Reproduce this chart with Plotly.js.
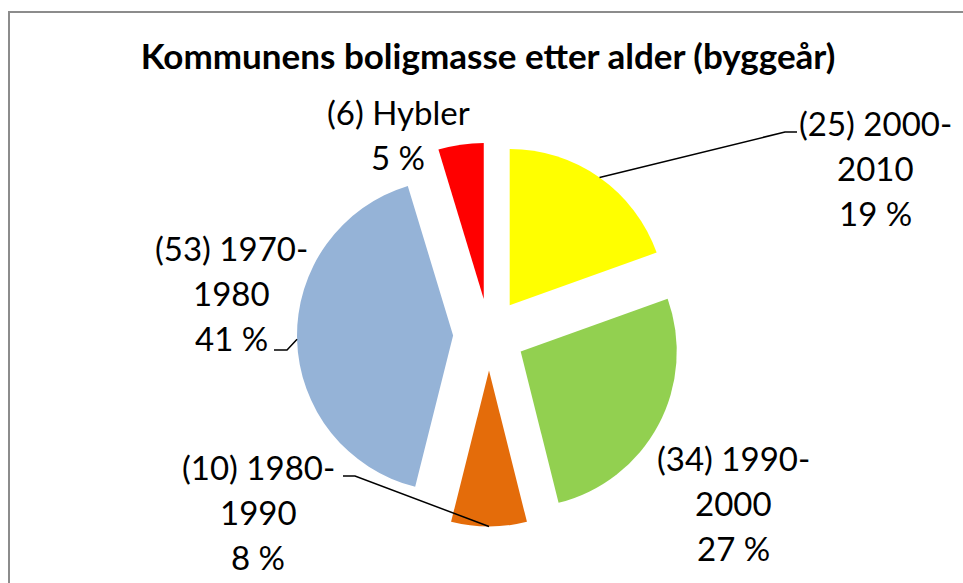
<!DOCTYPE html>
<html>
<head>
<meta charset="utf-8">
<script src="https://cdn.plot.ly/plotly-3.0.1.min.js"></script>
<style>html,body{margin:0;padding:0;background:#fff;}#chart{width:963px;height:583px;}</style>
</head>
<body>
<div id="chart"></div>
<script>
// ---- data ----
var categories = ['2000-2010', '1990-2000', '1980-1990', '1970-1980', 'Hybler'];
var counts = [25, 34, 10, 53, 6];
var percentLabels = ['19 %', '27 %', '8 %', '41 %', '5 %'];
var colors = ['#FFFF00', '#92D050', '#E46C0A', '#95B3D7', '#FF0000'];

// ---- layout constants (pixels) ----
var W = 963, H = 583;
var cx = 489, cy = 334.5, R = 192;      // pie centre and outer extent incl. pull
var pullFrac = 0.23;
var fontFam = 'Lato, "Open Sans", sans-serif';
var labelSize = 33;
var lineGap = 45;
// label block: x centre, y of first line, leader end (elbow) points
var labelPos = [
  {x: 875, y: 123, leader: [[785, 132], [797, 132]]},
  {x: 733, y: 458, leader: null},
  {x: 258, y: 467, leader: [[355, 476], [343, 476]]},
  {x: 231, y: 248, leader: [[287, 350], [274, 350]]},
  {x: 398, y: 112, leader: null}
];

function px(x) { return x / W; }
function py(y) { return 1 - y / H; }

var total = counts.reduce(function (a, b) { return a + b; }, 0);

var annotations = [];
var shapes = [];
var cum = 0;
categories.forEach(function (cat, i) {
  var lines = [];
  var name = '(' + counts[i] + ') ' + cat;
  var hy = name.indexOf('-');
  if (hy >= 0) { lines.push(name.slice(0, hy + 1)); lines.push(name.slice(hy + 1)); }
  else lines.push(name);
  lines.push(percentLabels[i]);
  lines.forEach(function (t, k) {
    annotations.push({
      xref: 'paper', yref: 'paper', x: px(labelPos[i].x), y: py(labelPos[i].y + k * lineGap),
      xanchor: 'center', yanchor: 'middle', text: t, showarrow: false,
      font: {family: fontFam, size: labelSize, color: '#000'}
    });
  });
  var mid = (cum + counts[i] / 2) / total * 2 * Math.PI;
  cum += counts[i];
  if (labelPos[i].leader) {
    var sx = cx + Math.sin(mid) * R, sy = cy - Math.cos(mid) * R;
    var pts = [[sx, sy]].concat(labelPos[i].leader);
    var d = 'M' + pts.map(function (p) { return px(p[0]) + ',' + py(p[1]); }).join(' L');
    shapes.push({type: 'path', xref: 'paper', yref: 'paper', path: d,
      line: {color: '#000', width: 1.5}});
  }
});

// chart-area border (top + left)
shapes.push({type: 'path', xref: 'paper', yref: 'paper',
  path: 'M' + px(9) + ',0 L' + px(9) + ',' + py(12) + ' L1,' + py(12),
  line: {color: '#8C8C8C', width: 2}});

var trace = {
  type: 'pie',
  labels: categories,
  values: counts,
  sort: false,
  direction: 'clockwise',
  rotation: 0,
  pull: categories.map(function () { return pullFrac; }),
  marker: {colors: colors, line: {width: 0}},
  textinfo: 'none',
  hoverinfo: 'label+value+percent',
  domain: {x: [px(cx - R), px(cx + R)], y: [py(cy + R), py(cy - R)]}
};

var layout = {
  width: W, height: H,
  margin: {l: 0, r: 0, t: 0, b: 0},
  paper_bgcolor: '#fff',
  showlegend: false,
  title: {text: '<b>Kommunens boligmasse etter alder (byggeår)</b>',
    x: 488 / W, xanchor: 'center', y: py(57), yanchor: 'middle', yref: 'paper',
    font: {family: fontFam, size: 35, color: '#000'}},
  annotations: annotations,
  shapes: shapes
};

Plotly.newPlot('chart', [trace], layout, {staticPlot: true});
</script>
</body>
</html>
